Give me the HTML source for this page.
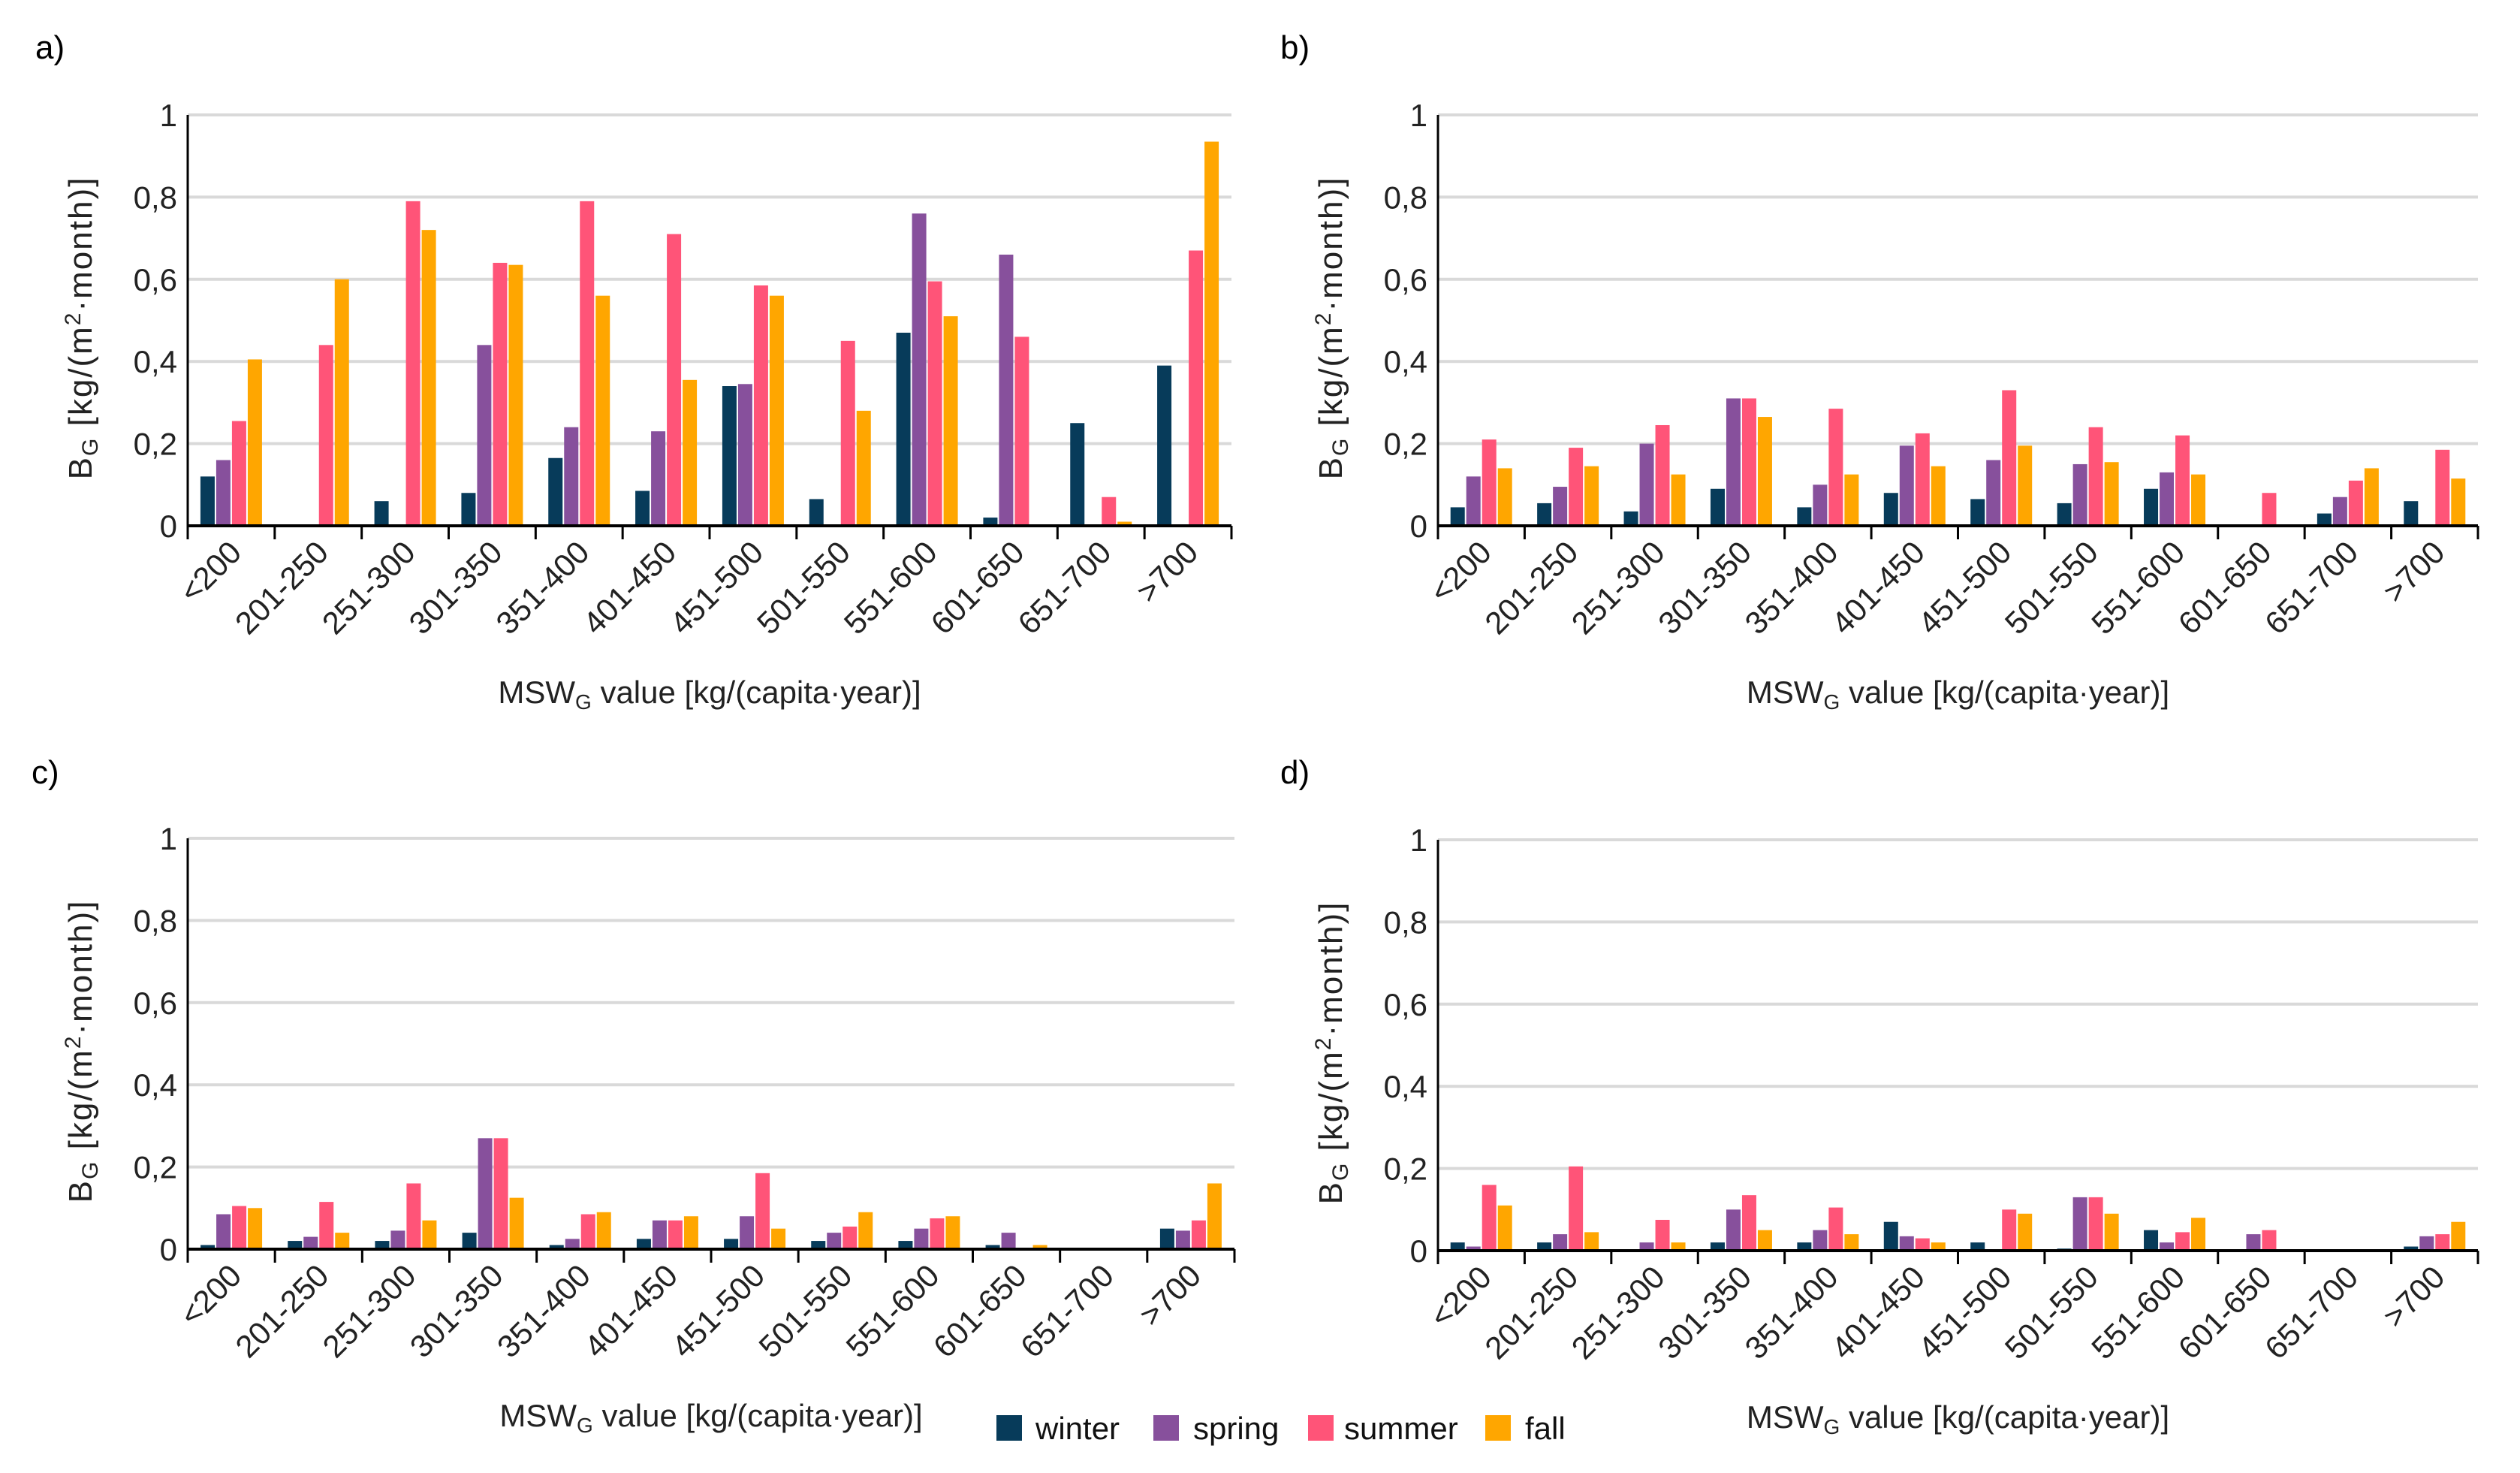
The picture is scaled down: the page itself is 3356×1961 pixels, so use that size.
<!DOCTYPE html>
<html><head><meta charset="utf-8"><style>
body{margin:0;background:#fff}
svg{display:block;font-family:"Liberation Sans",sans-serif}
</style></head><body>
<svg id="chart" width="3356" height="1961" viewBox="0 0 3356 1961" xmlns="http://www.w3.org/2000/svg"></svg>
<script>
const categories=["<200","201-250","251-300","301-350","351-400","401-450","451-500","501-550","551-600","601-650","651-700",">700"];
const seasons=["winter","spring","summer","fall"];
const colors=["#073b5a","#87509c","#ff5478","#ffa600"];
const aWinter=[0.12,0,0.06,0.08,0.165,0.085,0.34,0.065,0.47,0.02,0.25,0.39];
const aSpring=[0.16,0,0,0.44,0.24,0.23,0.345,0,0.76,0.66,0,0];
const aSummer=[0.255,0.44,0.79,0.64,0.79,0.71,0.585,0.45,0.595,0.46,0.07,0.67];
const aFall=[0.405,0.60,0.72,0.635,0.56,0.355,0.56,0.28,0.51,0,0.01,0.935];
const bWinter=[0.045,0.055,0.035,0.09,0.045,0.08,0.065,0.055,0.09,0,0.03,0.06];
const bSpring=[0.12,0.095,0.2,0.31,0.1,0.195,0.16,0.15,0.13,0,0.07,0];
const bSummer=[0.21,0.19,0.245,0.31,0.285,0.225,0.33,0.24,0.22,0.08,0.11,0.185];
const bFall=[0.14,0.145,0.125,0.265,0.125,0.145,0.195,0.155,0.125,0,0.14,0.115];
const cWinter=[0.01,0.02,0.02,0.04,0.01,0.025,0.025,0.02,0.02,0.01,0,0.05];
const cSpring=[0.085,0.03,0.045,0.27,0.025,0.07,0.08,0.04,0.05,0.04,0,0.045];
const cSummer=[0.105,0.115,0.16,0.27,0.085,0.07,0.185,0.055,0.075,0,0,0.07];
const cFall=[0.1,0.04,0.07,0.125,0.09,0.08,0.05,0.09,0.08,0.01,0,0.16];
const dWinter=[0.02,0.02,0,0.02,0.02,0.07,0.02,0.005,0.05,0,0,0.01];
const dSpring=[0.01,0.04,0.02,0.1,0.05,0.035,0,0.13,0.02,0.04,0,0.035];
const dSummer=[0.16,0.205,0.075,0.135,0.105,0.03,0.1,0.13,0.045,0.05,0,0.04];
const dFall=[0.11,0.045,0.02,0.05,0.04,0.02,0.09,0.09,0.08,0,0,0.07];
const yTicks=[0,0.2,0.4,0.6,0.8,1];
const yTickLabels=["0","0,2","0,4","0,6","0,8","1"];

const NS="http://www.w3.org/2000/svg";
const svg=document.getElementById('chart');
function el(tag,attrs,parent,text){const e=document.createElementNS(NS,tag);for(const k in attrs)e.setAttribute(k,attrs[k]);if(text!==undefined)e.textContent=text;(parent||svg).appendChild(e);return e;}

const panels=[
 {id:"a",label:"a)",lx:47,ly:78,x0:250,x1:1640,yTop:153,yBot:700,series:[aWinter,aSpring,aSummer,aFall]},
 {id:"b",label:"b)",lx:1705,ly:78,x0:1915,x1:3300,yTop:153,yBot:700,series:[bWinter,bSpring,bSummer,bFall]},
 {id:"c",label:"c)",lx:42,ly:1043,x0:250,x1:1644,yTop:1116,yBot:1663,series:[cWinter,cSpring,cSummer,cFall]},
 {id:"d",label:"d)",lx:1705,ly:1043,x0:1915,x1:3300,yTop:1118,yBot:1665,series:[dWinter,dSpring,dSummer,dFall]}
];

panels.forEach(p=>{
 const g=el('g',{});
 
 
 const yS=v=>p.yBot-(p.yBot-p.yTop)*v;
 const cw=(p.x1-p.x0)/categories.length;
 const xS=i=>p.x0+cw*i;
 const t=el('text',{x:p.lx,y:p.ly,'font-size':44,fill:'#000'},g,p.label);
 
 
 yTicks.forEach((v,i)=>{
  if(v>0){const gl=el('line',{x1:p.x0,x2:p.x1,y1:yS(v),y2:yS(v),stroke:'#d9d9d9','stroke-width':4},g);
   
   }
  const tl=el('text',{x:p.x0-14,y:yS(v)+15,'font-size':42,'text-anchor':'end',fill:'#222'},g,yTickLabels[i]);
  
  
 });
 const bw=19,gap=2,gw=4*bw+3*gap;
 p.series.forEach((arr,s)=>{
  arr.forEach((v,i)=>{
   if(v<=0)return;
   const x=xS(i)+(cw-gw)/2+s*(bw+gap);
   const r=el('rect',{x:x,y:yS(v),width:bw,height:yS(0)-yS(v),fill:colors[s]},g);
   
   
  });
 });
 const ya=el('line',{x1:p.x0,x2:p.x0,y1:p.yTop,y2:p.yBot,stroke:'#000','stroke-width':3},g);
 
 
 const xa=el('line',{x1:p.x0,x2:p.x1,y1:p.yBot,y2:p.yBot,stroke:'#000','stroke-width':4},g);
 
 
 for(let i=0;i<=categories.length;i++){
  const tk=el('line',{x1:xS(i),x2:xS(i),y1:p.yBot,y2:p.yBot+18,stroke:'#000','stroke-width':3},g);
  
  
 }
 categories.forEach((c,i)=>{
  const cx=xS(i)+cw/2+16, cy=p.yBot+38;
  const tl=el('text',{x:cx,y:cy,'font-size':42,'text-anchor':'end',fill:'#222',transform:`rotate(-45 ${cx} ${cy})`},g,c);
  
  
 });
 const xt=el('text',{x:(p.x0+p.x1)/2,y:p.yBot+236,'font-size':42,'text-anchor':'middle',fill:'#222'},g);
 
 
 el('tspan',{},xt,'MSW');
 el('tspan',{'font-size':28,dy:8},xt,'G');
 el('tspan',{dy:-8},xt,' value [kg/(capita·year)]');
 const ycx=p.x0-128, ycy=(p.yTop+p.yBot)/2+10;
 const yt=el('text',{x:ycx,y:ycy,'font-size':44,'letter-spacing':2,'text-anchor':'middle',fill:'#222',transform:`rotate(-90 ${ycx} ${ycy})`},g);
 
 
 el('tspan',{},yt,'B');
 el('tspan',{'font-size':30,dy:8},yt,'G');
 el('tspan',{dy:-8},yt,' [kg/(m');
 el('tspan',{'font-size':30,dy:-15},yt,'2');
 el('tspan',{dy:15},yt,'·month)]');
});

const lg=el('g',{});


const lx=[1327,1536,1742,1978], tx=[1379,1589,1790,2031];
seasons.forEach((s,i)=>{
 const r=el('rect',{x:lx[i],y:1884,width:34,height:34,fill:colors[i]},lg);
 
 
 const t=el('text',{x:tx[i],y:1916,'font-size':42,fill:'#111'},lg,s);
 
 
});
</script>
</body></html>
